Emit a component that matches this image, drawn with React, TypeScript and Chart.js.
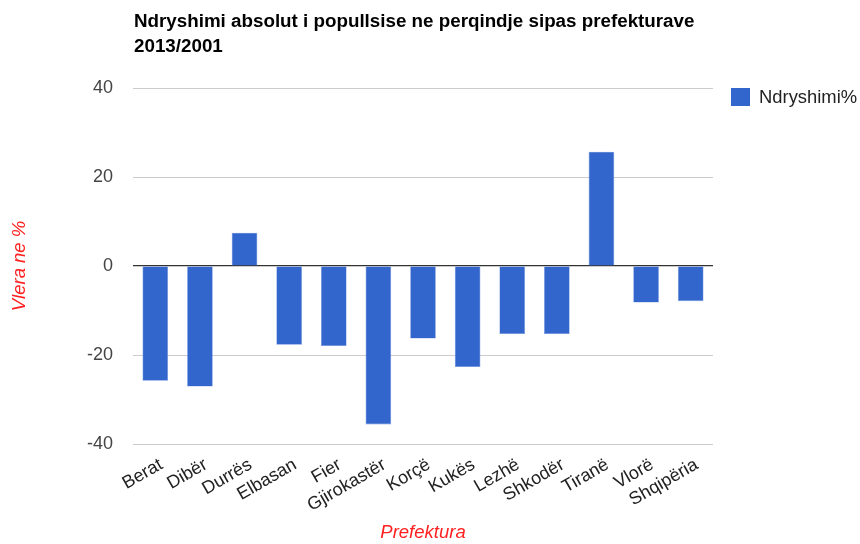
import React, { useEffect, useRef } from "react";
import { Chart, registerables } from "chart.js";

Chart.register(...registerables);

const categories = [
  "Berat", "Dibër", "Durrës", "Elbasan", "Fier", "Gjirokastër", "Korçë",
  "Kukës", "Lezhë", "Shkodër", "Tiranë", "Vlorë", "Shqipëria",
];
const seriesName = "Ndryshimi%";
const values = [-25.8, -27.1, 7.5, -17.7, -18.0, -35.6, -16.3, -22.7, -15.3, -15.3, 25.7, -8.2, -7.9];
const yTicks = [-40, -20, 0, 20, 40];
const titleLines = ["Ndryshimi absolut i popullsise ne perqindje sipas prefekturave", "2013/2001"];
const yTitle = "Vlera ne %";
const xTitle = "Prefektura";

const FONT = "'Liberation Sans', Arial, sans-serif";
const BAR = "#3366cc";

const overlay = {
  id: "overlay",
  afterDraw(chart: any) {
    const ctx = chart.ctx;
    const area = chart.chartArea;
    ctx.save();
    ctx.fillStyle = "#000";
    ctx.font = `bold 18.8px ${FONT}`;
    ctx.textAlign = "left";
    ctx.textBaseline = "middle";
    ctx.fillText(titleLines[0], 134, 22);
    ctx.fillText(titleLines[1], 134, 46.5);
    // legend
    const lx = area.right + 18;
    const ly = area.top;
    ctx.fillStyle = BAR;
    ctx.fillRect(lx, ly, 19, 18);
    ctx.fillStyle = "#222";
    ctx.font = `18.4px ${FONT}`;
    ctx.fillText(seriesName, lx + 28, ly + 9.5);
    ctx.restore();
  },
};

export default function App() {
  const ref = useRef<HTMLCanvasElement | null>(null);
  useEffect(() => {
    if (!ref.current) return;
    const chart = new Chart(ref.current, {
      type: "bar",
      data: {
        labels: categories,
        datasets: [
          {
            label: seriesName,
            data: values,
            backgroundColor: BAR,
            borderColor: "#6f93dd",
            borderWidth: 0.6,
            barPercentage: 0.575,
            categoryPercentage: 1,
          },
        ],
      },
      options: {
        animation: false,
        responsive: false,
        devicePixelRatio: 1,
        layout: { padding: { top: 88, right: 147, bottom: 0, left: 0 } },
        plugins: {
          legend: { display: false },
          title: { display: false },
          tooltip: { enabled: false },
        },
        scales: {
          x: {
            grid: { display: false },
            border: { display: false },
            ticks: {
              color: "#222",
              font: { family: FONT, size: 18 },
              maxRotation: 30,
              minRotation: 30,
              padding: 2,
              labelOffset: 6,
              autoSkip: false,
            },
            title: {
              display: true,
              text: xTitle,
              color: "#ff2020",
              font: { family: FONT, size: 18.5, style: "italic" },
              padding: { top: 0, bottom: 0 },
            },
            afterFit: (s: any) => {
              s.height = 100;
            },
          },
          y: {
            min: -40,
            max: 40,
            afterBuildTicks: (s: any) => {
              s.ticks = yTicks.map((v) => ({ value: v }));
            },
            grid: {
              drawTicks: false,
              color: (c: any) => (c.tick && c.tick.value === 0 ? "#333" : "#cccccc"),
              lineWidth: (c: any) => (c.tick && c.tick.value === 0 ? 1.2 : 1),
            },
            border: { display: false },
            ticks: {
              color: "#444",
              font: { family: FONT, size: 18 },
              padding: 20,
            },
            title: {
              display: true,
              text: yTitle,
              color: "#ff2020",
              font: { family: FONT, size: 18.5, style: "italic" },
              padding: { top: 9, bottom: 0 },
            },
            afterFit: (s: any) => {
              s.width = 133;
            },
          },
        },
      },
      plugins: [overlay],
    });
    return () => chart.destroy();
  }, []);
  return (
    <div style={{ position: "absolute", left: 0, top: 0, width: 860, height: 544, background: "#fff" }}>
      <canvas ref={ref} width={860} height={544} style={{ width: 860, height: 544, display: "block" }} />
    </div>
  );
}
